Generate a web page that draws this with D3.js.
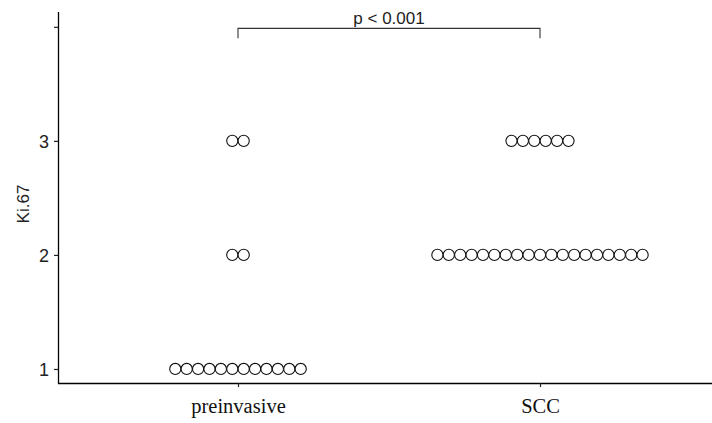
<!DOCTYPE html>
<html><head><meta charset="utf-8">
<script src="https://cdn.jsdelivr.net/npm/d3@7"></script>
<style>body{margin:0;background:#fff}</style>
</head><body>
<svg id="c" width="712" height="423"></svg>
<script>
const categories = ["preinvasive", "SCC"];
const levels = [1, 2, 3];
const preinvasiveCounts = [12, 2, 2];
const sccCounts = [0, 19, 6];
const yTicks = [1, 2, 3, 4];
const yTickLabels = ["1", "2", "3", ""];
const pLabel = "p < 0.001";

const svg = d3.select("#c");
const x = d3.scalePoint().domain(categories).range([58, 720]).padding(0.596);
const y = d3.scaleLinear().domain([0.877, 4.13]).range([383, 12]);
const r = 5.6, gap = 11.4;

const counts = {preinvasive: preinvasiveCounts, SCC: sccCounts};
const dots = [];
categories.forEach(c => {
  levels.forEach((lv, i) => {
    const n = counts[c][i];
    for (let k = 0; k < n; k++) dots.push({c, lv, off: (k - (n - 1) / 2) * gap});
  });
});

const sans = "'Liberation Sans', Arial, sans-serif";
// axes
const yAxis = d3.axisLeft(y).tickValues(yTicks).tickFormat((d, i) => yTickLabels[i]).tickSize(4).tickPadding(5);
const gy = svg.append("g").attr("transform", "translate(58,0)").call(yAxis);
gy.select(".domain").attr("d", "M0.5,12V383.5").attr("stroke", "#000").attr("stroke-width", 1.3);
gy.selectAll(".tick line").attr("stroke", "#222").attr("stroke-width", 1.2);
gy.selectAll(".tick text").style("font-family", sans).style("font-size", "18px").attr("fill", "#222").attr("dy", "0.36em");

const xAxis = d3.axisBottom(x).tickSize(4).tickPadding(5);
const gx = svg.append("g").attr("transform", "translate(0,383)").call(xAxis);
gx.select(".domain").attr("d", "M58,0.5H712").attr("stroke", "#000").attr("stroke-width", 1.3);
gx.selectAll(".tick line").attr("stroke", "#222").attr("stroke-width", 1.2);
gx.selectAll(".tick text").style("font-family", "'Liberation Serif', 'Times New Roman', serif").style("font-size", "20.5px")
  .attr("fill", "#111").attr("y", 30).attr("dy", 0);

svg.append("text").attr("transform", "translate(29,204) rotate(-90)").attr("text-anchor", "middle")
  .style("font-family", sans).style("font-size", "17px").attr("fill", "#222").text("Ki.67");

// dots
svg.append("g").selectAll("circle").data(dots).join("circle")
  .attr("cx", d => x(d.c) + d.off).attr("cy", d => y(d.lv)).attr("r", r)
  .attr("fill", "#fff").attr("stroke", "#111").attr("stroke-width", 1.1);

// bracket
const by = y(4) + 1.5;
svg.append("path").attr("d", `M${x("preinvasive")},${by + 10}V${by}H${x("SCC")}V${by + 10}`)
  .attr("fill", "none").attr("stroke", "#333").attr("stroke-width", 1.1);
svg.append("text").attr("x", (x("preinvasive") + x("SCC")) / 2).attr("y", by - 4).attr("text-anchor", "middle")
  .style("font-family", sans).style("font-size", "17px").attr("fill", "#222").text(pLabel);
</script>
</body></html>
